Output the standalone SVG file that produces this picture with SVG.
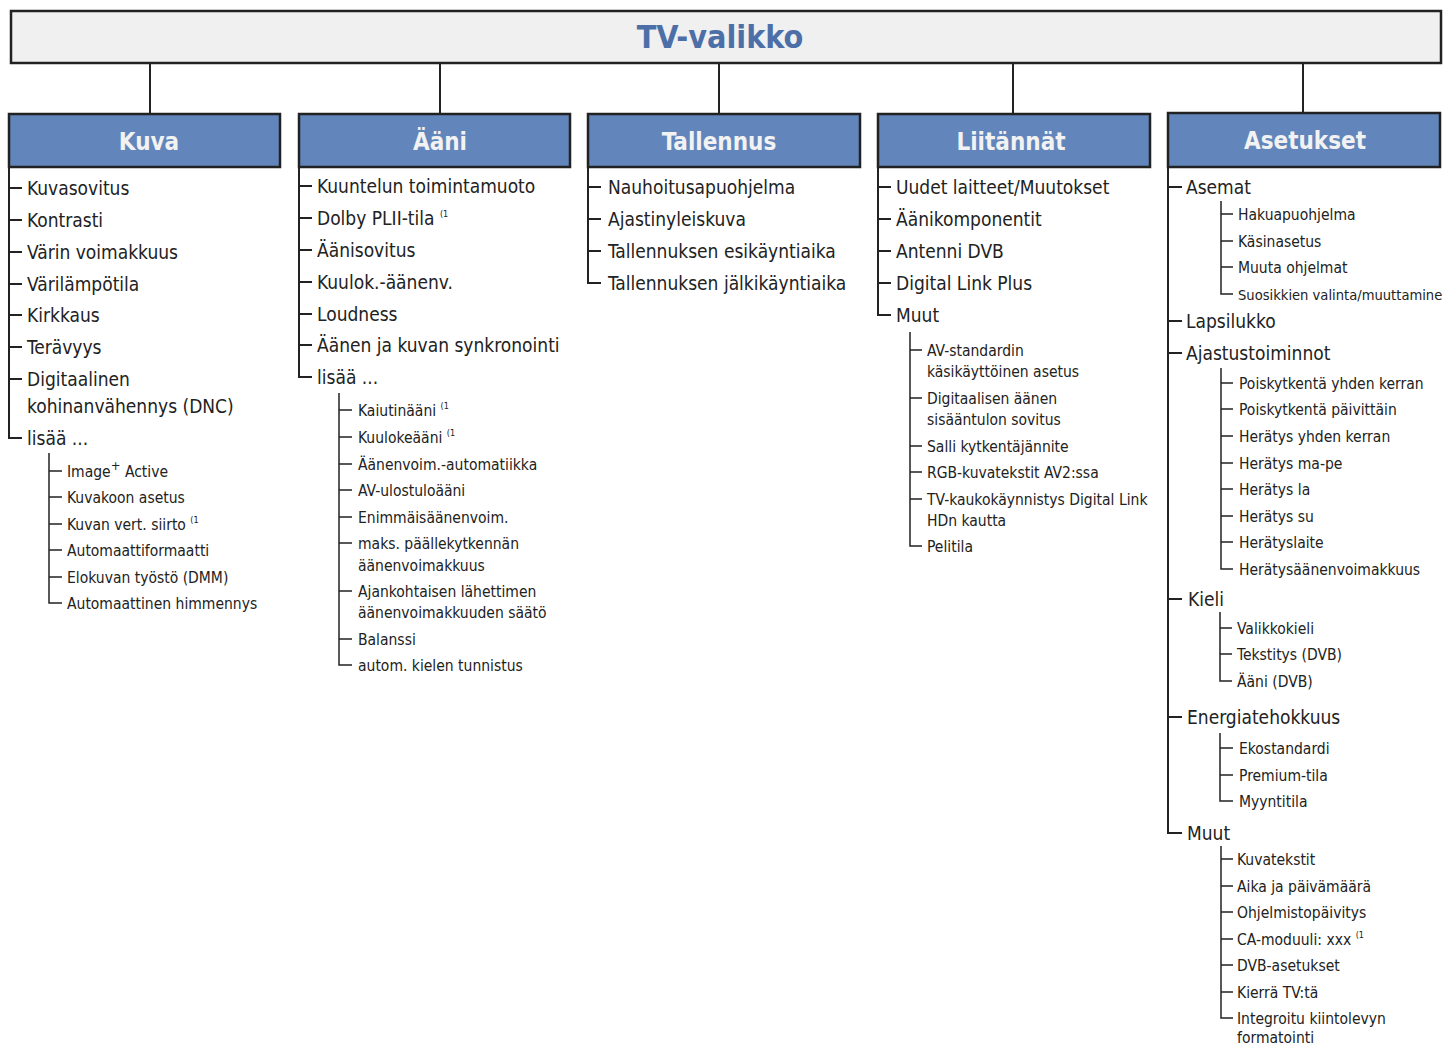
<svg xmlns="http://www.w3.org/2000/svg" width="1452" height="1047" viewBox="0 0 1452 1047">
<style>
text{font-family:"DejaVu Sans Condensed","Liberation Sans Narrow","Liberation Sans",sans-serif;fill:#222}
.t1{font-size:19px}
.t2{font-size:15.5px}
.sup{font-size:9px}
.hd{font-size:24px;font-weight:bold;fill:#f2f2f2;text-anchor:middle}
.title{font-size:32px;font-weight:bold;fill:#4c6fa8;text-anchor:middle}
.hbox{fill:#6286bb;stroke:#222;stroke-width:2.5}
.ln{stroke:#222;stroke-width:2;fill:none}
.ln2{stroke:#222;stroke-width:1.5;fill:none}
</style>
<rect width="1452" height="1047" fill="#fff"/>
<g id="title">
<rect x="11" y="11" width="1430" height="52" fill="#f0f0f0" stroke="#222" stroke-width="2.5"/>
<text class="title" x="720" y="48">TV-valikko</text>
</g>
<g id="connectors">
<path class="ln" d="M150 63V114M440 63V114M719 63V114M1013 63V114M1303 63V114"/>
<path class="ln" d="M9 167V438H22M9 188H22M9 220H22M9 252H22M9 284H22M9 315H22M9 347H22M9 379H22"/>
<path class="ln2" d="M49 453V603H62M49 471H62M49 497H62M49 524H62M49 550H62M49 577H62"/>
<path class="ln" d="M299 167V377H312M299 186H312M299 218H312M299 250H312M299 282H312M299 314H312M299 345H312"/>
<path class="ln2" d="M339 393V665H352M339 410H352M339 437H352M339 464H352M339 490H352M339 517H352M339 543H352M339 591H352M339 639H352"/>
<path class="ln" d="M588 167V283H601M588 187H601M588 219H601M588 251H601"/>
<path class="ln" d="M878 167V315H891M878 187H891M878 219H891M878 251H891M878 283H891"/>
<path class="ln2" d="M910 332V546H922M910 350H922M910 398H922M910 446H922M910 472H922M910 499H922"/>
<path class="ln" d="M1168 167V833H1182M1168 187H1182M1168 321H1182M1168 353H1182M1168 599H1182M1168 717H1182"/>
<path class="ln2" d="M1221 201V294H1233M1221 214H1233M1221 241H1233M1221 267H1233"/>
<path class="ln2" d="M1221 368V569H1233M1221 383H1233M1221 409H1233M1221 436H1233M1221 463H1233M1221 489H1233M1221 516H1233M1221 542H1233"/>
<path class="ln2" d="M1220 612V681H1232M1220 628H1232M1220 654H1232"/>
<path class="ln2" d="M1220 733V801H1233M1220 748H1233M1220 775H1233"/>
<path class="ln2" d="M1221 846V1018H1233M1221 859H1233M1221 886H1233M1221 912H1233M1221 939H1233M1221 965H1233M1221 992H1233"/>
</g>
<g id="kuva">
<rect class="hbox" x="9" y="114" width="271" height="53"/>
<text class="hd" x="149" y="150">Kuva</text>
<text class="t1" x="27" y="195">Kuvasovitus</text>
<text class="t1" x="27" y="227">Kontrasti</text>
<text class="t1" x="27" y="259">Värin voimakkuus</text>
<text class="t1" x="27" y="291">Värilämpötila</text>
<text class="t1" x="27" y="322">Kirkkaus</text>
<text class="t1" x="27" y="354">Terävyys</text>
<text class="t1" x="27" y="386">Digitaalinen</text>
<text class="t1" x="27" y="413">kohinanvähennys (DNC)</text>
<text class="t1" x="27" y="445">lisää ...</text>
<text class="t2" x="67" y="477">Image<tspan baseline-shift="super" font-size="13">+</tspan> Active</text>
<text class="t2" x="67" y="503">Kuvakoon asetus</text>
<text class="t2" x="67" y="530">Kuvan vert. siirto <tspan class="sup" dy="-7">(1</tspan></text>
<text class="t2" x="67" y="556">Automaattiformaatti</text>
<text class="t2" x="67" y="583">Elokuvan työstö (DMM)</text>
<text class="t2" x="67" y="609">Automaattinen himmennys</text>
</g>
<g id="aani">
<rect class="hbox" x="299" y="114" width="271" height="53"/>
<text class="hd" x="440" y="150">Ääni</text>
<text class="t1" x="317" y="193">Kuuntelun toimintamuoto</text>
<text class="t1" x="317" y="225">Dolby PLII-tila <tspan class="sup" dy="-8">(1</tspan></text>
<text class="t1" x="317" y="257">Äänisovitus</text>
<text class="t1" x="317" y="289">Kuulok.-äänenv.</text>
<text class="t1" x="317" y="321">Loudness</text>
<text class="t1" x="317" y="352">Äänen ja kuvan synkronointi</text>
<text class="t1" x="317" y="384">lisää ...</text>
<text class="t2" x="358" y="416">Kaiutinääni <tspan class="sup" dy="-7">(1</tspan></text>
<text class="t2" x="358" y="443">Kuulokeääni <tspan class="sup" dy="-7">(1</tspan></text>
<text class="t2" x="358" y="470">Äänenvoim.-automatiikka</text>
<text class="t2" x="358" y="496">AV-ulostuloääni</text>
<text class="t2" x="358" y="523">Enimmäisäänenvoim.</text>
<text class="t2" x="358" y="549">maks. päällekytkennän</text>
<text class="t2" x="358" y="571">äänenvoimakkuus</text>
<text class="t2" x="358" y="597">Ajankohtaisen lähettimen</text>
<text class="t2" x="358" y="618">äänenvoimakkuuden säätö</text>
<text class="t2" x="358" y="645">Balanssi</text>
<text class="t2" x="358" y="671">autom. kielen tunnistus</text>
</g>
<g id="tallennus">
<rect class="hbox" x="588" y="114" width="272" height="53"/>
<text class="hd" x="719" y="150">Tallennus</text>
<text class="t1" x="608" y="194">Nauhoitusapuohjelma</text>
<text class="t1" x="608" y="226">Ajastinyleiskuva</text>
<text class="t1" x="608" y="258">Tallennuksen esikäyntiaika</text>
<text class="t1" x="608" y="290">Tallennuksen jälkikäyntiaika</text>
</g>
<g id="liitannat">
<rect class="hbox" x="878" y="114" width="272" height="53"/>
<text class="hd" x="1011" y="150">Liitännät</text>
<text class="t1" x="896" y="194">Uudet laitteet/Muutokset</text>
<text class="t1" x="896" y="226">Äänikomponentit</text>
<text class="t1" x="896" y="258">Antenni DVB</text>
<text class="t1" x="896" y="290">Digital Link Plus</text>
<text class="t1" x="896" y="322">Muut</text>
<text class="t2" x="927" y="356">AV-standardin</text>
<text class="t2" x="927" y="377">käsikäyttöinen asetus</text>
<text class="t2" x="927" y="404">Digitaalisen äänen</text>
<text class="t2" x="927" y="425">sisääntulon sovitus</text>
<text class="t2" x="927" y="452">Salli kytkentäjännite</text>
<text class="t2" x="927" y="478">RGB-kuvatekstit AV2:ssa</text>
<text class="t2" x="927" y="505">TV-kaukokäynnistys Digital Link</text>
<text class="t2" x="927" y="526">HDn kautta</text>
<text class="t2" x="927" y="552">Pelitila</text>
</g>
<g id="asetukset">
<rect class="hbox" x="1168" y="113" width="272" height="54"/>
<text class="hd" x="1305" y="149">Asetukset</text>
<text class="t1" x="1186" y="194">Asemat</text>
<text class="t2" x="1238" y="220">Hakuapuohjelma</text>
<text class="t2" x="1238" y="247">Käsinasetus</text>
<text class="t2" x="1238" y="273">Muuta ohjelmat</text>
<text class="t2" x="1238" y="300" style="font-size:14.6px">Suosikkien valinta/muuttamine</text>
<text class="t1" x="1186" y="328">Lapsilukko</text>
<text class="t1" x="1186" y="360">Ajastustoiminnot</text>
<text class="t2" x="1239" y="389">Poiskytkentä yhden kerran</text>
<text class="t2" x="1239" y="415">Poiskytkentä päivittäin</text>
<text class="t2" x="1239" y="442">Herätys yhden kerran</text>
<text class="t2" x="1239" y="469">Herätys ma-pe</text>
<text class="t2" x="1239" y="495">Herätys la</text>
<text class="t2" x="1239" y="522">Herätys su</text>
<text class="t2" x="1239" y="548">Herätyslaite</text>
<text class="t2" x="1239" y="575">Herätysäänenvoimakkuus</text>
<text class="t1" x="1188" y="606">Kieli</text>
<text class="t2" x="1237" y="634">Valikkokieli</text>
<text class="t2" x="1237" y="660">Tekstitys (DVB)</text>
<text class="t2" x="1237" y="687">Ääni (DVB)</text>
<text class="t1" x="1187" y="724">Energiatehokkuus</text>
<text class="t2" x="1239" y="754">Ekostandardi</text>
<text class="t2" x="1239" y="781">Premium-tila</text>
<text class="t2" x="1239" y="807">Myyntitila</text>
<text class="t1" x="1187" y="840">Muut</text>
<text class="t2" x="1237" y="865">Kuvatekstit</text>
<text class="t2" x="1237" y="892">Aika ja päivämäärä</text>
<text class="t2" x="1237" y="918">Ohjelmistopäivitys</text>
<text class="t2" x="1237" y="945">CA-moduuli: xxx <tspan class="sup" dy="-7">(1</tspan></text>
<text class="t2" x="1237" y="971">DVB-asetukset</text>
<text class="t2" x="1237" y="998">Kierrä TV:tä</text>
<text class="t2" x="1237" y="1024">Integroitu kiintolevyn</text>
<text class="t2" x="1237" y="1043">formatointi</text>
</g>
</svg>
